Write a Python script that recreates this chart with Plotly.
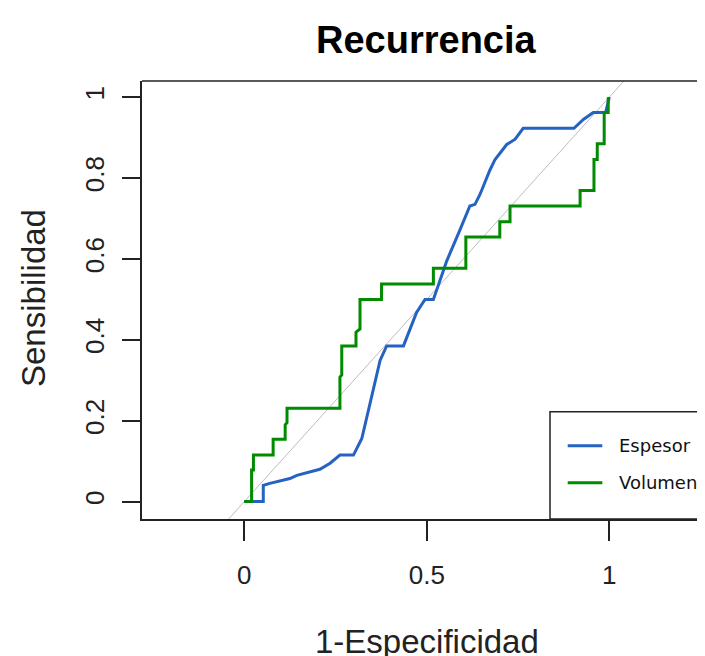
import plotly.graph_objects as go

# ---- data ----
espesor_fpr = [0, 0.052, 0.052, 0.07, 0.125, 0.144, 0.207, 0.235, 0.262, 0.299, 0.322, 0.344,
               0.372, 0.39, 0.436, 0.472, 0.495, 0.518, 0.555, 0.59, 0.618, 0.632, 0.646, 0.673,
               0.687, 0.719, 0.742, 0.764, 0.903, 0.929, 0.956, 0.99, 1.0]
espesor_tpr = [0, 0, 0.04, 0.045, 0.057, 0.065, 0.08, 0.095, 0.115, 0.115, 0.156, 0.242,
               0.349, 0.385, 0.385, 0.468, 0.5, 0.5, 0.596, 0.67, 0.731, 0.735, 0.76, 0.82,
               0.846, 0.883, 0.896, 0.923, 0.923, 0.945, 0.962, 0.962, 1.0]

volumen_fpr = [0, 0.02, 0.02, 0.025, 0.025, 0.079, 0.079, 0.112, 0.112, 0.117, 0.117, 0.262,
               0.262, 0.267, 0.267, 0.306, 0.306, 0.317, 0.317, 0.376, 0.376, 0.518, 0.518,
               0.607, 0.607, 0.70, 0.70, 0.728, 0.728, 0.92, 0.92, 0.958, 0.958, 0.967, 0.967,
               0.986, 0.986, 0.997, 0.997]
volumen_tpr = [0, 0, 0.078, 0.078, 0.115, 0.115, 0.154, 0.154, 0.19, 0.195, 0.231, 0.231,
               0.308, 0.313, 0.385, 0.385, 0.419, 0.427, 0.5, 0.5, 0.538, 0.538, 0.577,
               0.577, 0.654, 0.654, 0.692, 0.692, 0.731, 0.731, 0.769, 0.769, 0.846, 0.846, 0.885,
               0.885, 0.962, 0.962, 1.0]

diag = [-0.043, 1.04]
x_ticks = [0, 0.5, 1]
x_tick_labels = ["0", "0.5", "1"]
y_ticks = [0, 0.2, 0.4, 0.6, 0.8, 1]
y_tick_labels = ["0", "0.2", "0.4", "0.6", "0.8", "1"]
series_names = ["Espesor", "Volumen"]
series_colors = ["#2563C2", "#008B00"]

FONT = "Liberation Sans, Arial, sans-serif"

fig = go.Figure()
fig.add_trace(go.Scatter(x=diag, y=diag, mode="lines",
                         line=dict(color="#BDBDBD", width=1), hoverinfo="skip",
                         showlegend=False))
fig.add_trace(go.Scatter(x=espesor_fpr, y=espesor_tpr, mode="lines", name=series_names[0],
                         line=dict(color=series_colors[0], width=3), showlegend=False))
fig.add_trace(go.Scatter(x=volumen_fpr, y=volumen_tpr, mode="lines", name=series_names[1],
                         line=dict(color=series_colors[1], width=3), showlegend=False))

OFF = 8  # page body margin
W, H = 705 - OFF, 656 - OFF
# plot area in page pixels
PL, PR, PT, PB = 142, 705, 81, 519
L, R, T, B = PL - OFF, 0, PT - OFF, H - (PB - OFF)
pw, ph = PR - PL, PB - PT

def px_x(p):
    return (p - PL) / pw

def px_y(p):
    return (PB - p) / ph

x0_val = (PL - 244.3) / 365.0
x1_val = (PR - 244.3) / 365.0

fig.update_layout(
    width=W, height=H,
    margin=dict(l=L, r=R, t=T, b=B),
    paper_bgcolor="white", plot_bgcolor="white",
    showlegend=False,
    font=dict(family=FONT, color="#222222"),
    xaxis=dict(range=[x0_val, x1_val], tickvals=x_ticks, ticktext=x_tick_labels,
               ticks="outside", ticklen=20, tickwidth=1.5, tickcolor="#222222",
               showline=True, linecolor="#222222", linewidth=1.5,
               showgrid=False, zeroline=False, tickfont=dict(size=26, family=FONT),
               ticklabelstandoff=12),
    yaxis=dict(range=[-0.043, 1.04], tickvals=y_ticks, ticktext=y_tick_labels,
               ticks="outside", ticklen=18, tickwidth=1.5, tickcolor="#222222",
               showline=True, linecolor="#222222", linewidth=1.5,
               showgrid=False, zeroline=False, tickangle=-90,
               tickfont=dict(size=26, family=FONT), ticklabelstandoff=8),
)

shapes = [
    # top border
    dict(type="line", xref="paper", yref="paper", x0=0, x1=1.02, y0=1, y1=1,
         line=dict(color="#222222", width=1.5)),
    # legend box
    dict(type="rect", xref="paper", yref="paper", x0=px_x(550), x1=1.05, y0=0, y1=px_y(411.7),
         line=dict(color="#222222", width=1.5), fillcolor="white", layer="above"),
]
ann = []
for nm, col, yy in zip(series_names, series_colors, [445.7, 482.7]):
    shapes.append(dict(type="line", xref="paper", yref="paper", x0=px_x(567.7), x1=px_x(602.3),
                       y0=px_y(yy), y1=px_y(yy), line=dict(color=col, width=3), layer="above"))
    ann.append(dict(text=nm, xref="paper", yref="paper", x=px_x(617), y=px_y(yy),
                    xanchor="left", yanchor="middle", showarrow=False,
                    font=dict(size=18, family="DejaVu Sans, sans-serif", color="#111111")))

ann.append(dict(text="<b>Recurrencia</b>", xref="paper", yref="paper", x=px_x(426), y=1,
                yanchor="middle", xanchor="center", yshift=PT - 40, showarrow=False,
                font=dict(size=38, family=FONT, color="#000000")))
ann.append(dict(text="1-Especificidad", xref="paper", yref="paper", x=px_x(427), y=0,
                yanchor="middle", xanchor="center", yshift=-(641 - PB), showarrow=False,
                font=dict(size=33, family=FONT, color="#222222")))
ann.append(dict(text="Sensibilidad", xref="paper", yref="paper", x=0, y=px_y(298),
                yanchor="middle", xanchor="center", xshift=-(PL - 33), textangle=-90,
                showarrow=False, font=dict(size=33, family=FONT, color="#222222")))

fig.update_layout(shapes=shapes, annotations=ann)
fig.write_html("out.html")
